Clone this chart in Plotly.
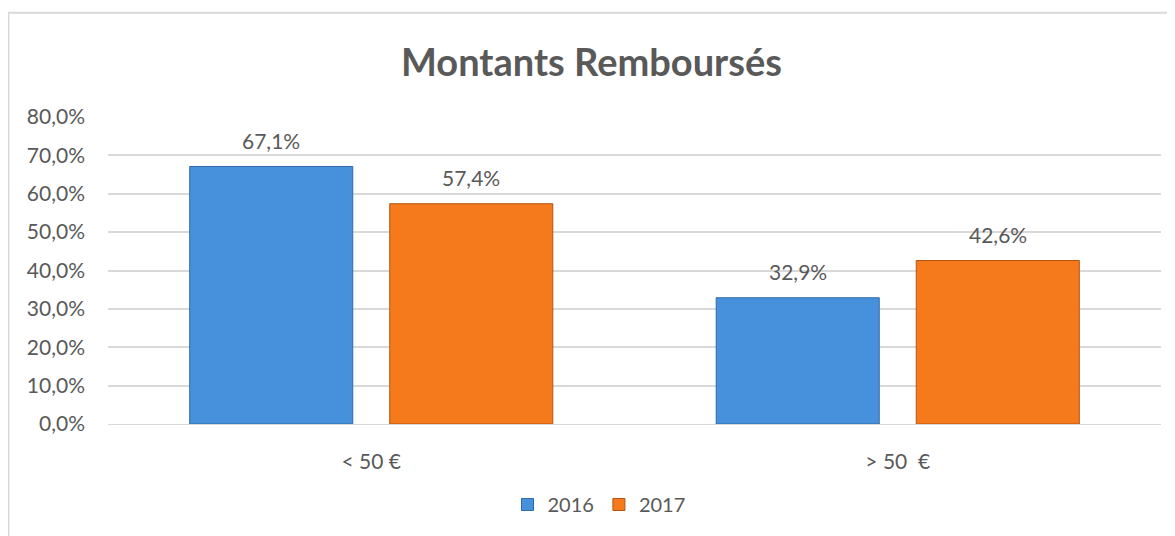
import plotly.graph_objects as go

categories = ["< 50 €", ">\u00a050 \u00a0€"]
series_names = ["2016", "2017"]
values_2016 = [0.671, 0.329]
values_2017 = [0.574, 0.426]
y_ticks = [0.0, 0.1, 0.2, 0.3, 0.4, 0.5, 0.6, 0.7, 0.8]

fill_colors = ["#4791dc", "#f57a1c"]
line_colors = ["#2f6aa6", "#b4520f"]
text_color = "#595959"
font_family = "Lato, 'Open Sans', sans-serif"

# page has an 8px body margin: figure occupies (8,8)-(1175,536)
W, H = 1167, 528
ML, MR, MT, MB = 100, 14, 109, 110
PW = W - ML - MR
PH = H - MT - MB
Y0 = 8 + MT + PH  # pixel y of zero line

BARGAP = 0.24
GROUPGAP = 0.185
slot_px = PW / 2 * (1 - BARGAP) / 2

fig = go.Figure()
for name, vals, fc, lc in zip(series_names, [values_2016, values_2017], fill_colors, line_colors):
    fig.add_trace(go.Bar(
        name=name, x=categories, y=vals,
        marker=dict(color=fc, line=dict(color=lc, width=1)),
    ))

annotations = []
for vals, sign in zip([values_2016, values_2017], [-1, 1]):
    for cat, v in zip(categories, vals):
        annotations.append(dict(
            x=cat, y=v, xref="x", yref="y",
            text=f"{v*100:.1f}%".replace(".", ","),
            showarrow=False, xshift=sign * slot_px / 2, yshift=26,
            yanchor="middle",
            font=dict(family=font_family, size=21, color=text_color),
        ))

annotations.append(dict(
    text="<b>Montants Remboursés</b>", x=(591 - 8 - ML) / PW, y=(Y0 - 61) / PH,
    xref="paper", yref="paper", yanchor="middle", xanchor="center",
    showarrow=False, font=dict(family=font_family, size=38, color=text_color),
))

fig.update_layout(
    width=W, height=H,
    margin=dict(l=ML, r=MR, t=MT, b=MB),
    paper_bgcolor="white", plot_bgcolor="white",
    separators=", ",
    barmode="group", bargap=BARGAP, bargroupgap=GROUPGAP,
    showlegend=True,
    legend=dict(orientation="h", x=(599 - 8 - ML) / PW, xanchor="center",
                y=-(507 - Y0) / PH, yanchor="middle",
                font=dict(family=font_family, size=20, color=text_color),
                itemwidth=30, traceorder="normal"),
    font=dict(family=font_family, color=text_color),
    annotations=annotations,
    shapes=[dict(type="rect", xref="paper", yref="paper",
                 x0=-ML / PW + 0.0005, x1=1.2, y0=-0.6, y1=(Y0 - 12) / PH,
                 line=dict(color="#d9d9d9", width=2), fillcolor="rgba(0,0,0,0)", layer="below")],
)

fig.update_xaxes(showgrid=False, showline=True, linecolor="#d9d9d9", linewidth=1,
                 ticks="", ticklabelstandoff=19,
                 tickfont=dict(family=font_family, size=21, color=text_color))
fig.update_yaxes(range=[0, 0.8], tickvals=y_ticks, tickformat=".1%",
                 showgrid=True, gridcolor="#d9d9d9", gridwidth=2, zeroline=False,
                 showline=False, ticks="", ticklabelstandoff=22,
                 tickfont=dict(family=font_family, size=21, color=text_color))

fig.write_html("out.html")
